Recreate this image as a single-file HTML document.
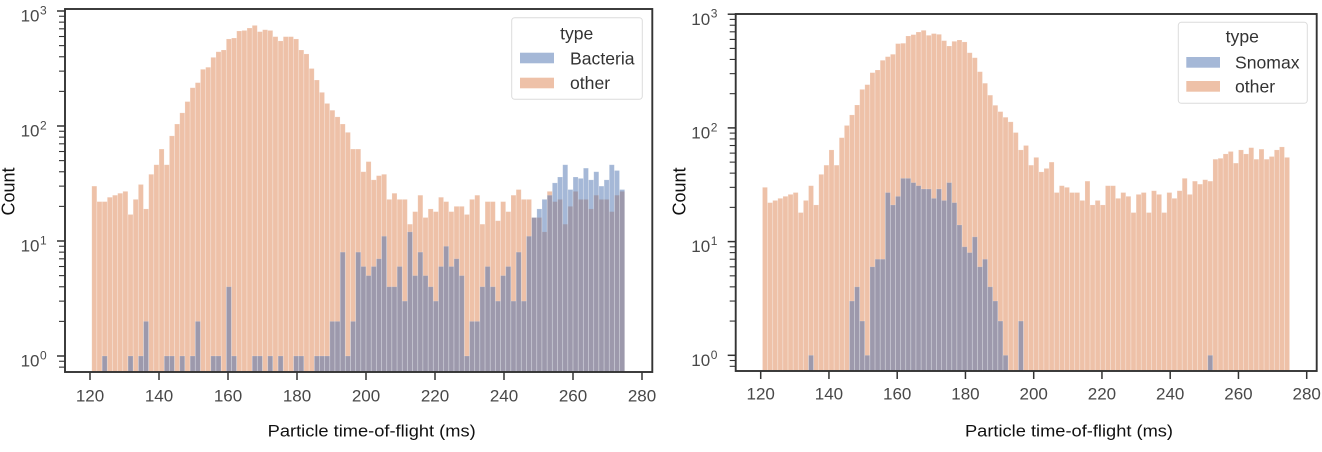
<!DOCTYPE html>
<html lang="en">
<head>
<meta charset="utf-8">
<title>Particle time-of-flight histograms</title>
<style>
html,body{margin:0;padding:0;background:#fff;width:1322px;height:452px;overflow:hidden}
svg{display:block;font-family:"Liberation Sans",sans-serif}
.tick-label{fill:#484848;font-size:17px}
.axis-title{fill:#111;font-size:17px}
.count-title{font-size:18px}
.legend-text{fill:#333;font-size:17.6px}
</style>
</head>
<body>
<svg id="figure" xmlns="http://www.w3.org/2000/svg" width="1322" height="452" viewBox="0 0 1322 452">
  <g id="left-chart"></g>
  <g id="right-chart"></g>

  <g>
    <rect x="511.7" y="17.7" width="130.6" height="81.6" rx="3" fill="#fff" fill-opacity="0.8" stroke="#dcdcdc" stroke-width="1"/>
    <text class="legend-text" x="576.7" y="39.5" text-anchor="middle">type</text>
    <rect x="520" y="52.7" width="34" height="10.6" fill="#4c72b0" fill-opacity="0.5"/>
    <text class="legend-text" x="570" y="64.5">Bacteria</text>
    <rect x="520" y="77.7" width="34" height="10.6" fill="#dd8452" fill-opacity="0.5"/>
    <text class="legend-text" x="570" y="89">other</text>
  </g>

  <g>
    <rect x="1178.3" y="22.3" width="129" height="81" rx="3" fill="#fff" fill-opacity="0.8" stroke="#dcdcdc" stroke-width="1"/>
    <text class="legend-text" x="1242.3" y="42.5" text-anchor="middle">type</text>
    <rect x="1186.3" y="57" width="33.7" height="10.7" fill="#4c72b0" fill-opacity="0.5"/>
    <text class="legend-text" x="1235" y="68.3">Snomax</text>
    <rect x="1186.3" y="81" width="33.7" height="10.7" fill="#dd8452" fill-opacity="0.5"/>
    <text class="legend-text" x="1235" y="92.3">other</text>
  </g>
</svg>

<script>
// Data: histogram counts per bin
const binStart = 120.5;
const binEnd = 275;
const xTickLabels = [120, 140, 160, 180, 200, 220, 240, 260, 280];
const yTickExponents = [0, 1, 2, 3];
const yMinorMultipliers = [2, 3, 4, 5, 6, 7, 8, 9];
const xAxisTitle = "Particle time-of-flight (ms)";
const yAxisTitle = "Count";

const leftOther = [
  30,22,22,24,25,26,27,17,23,31,
  19,38,46,63,46,82,104,130,163,215,
  238,311,324,395,442,458,571,582,670,677,
  711,749,661,687,677,598,549,598,598,571,
  458,423,316,251,196,157,137,120,104,88,
  63,63,40,49,34,37,38,23,26,23,
  23,14,18,25,16,19,18,24,22,18,
  20,20,17,23,25,14,22,22,15,22,
  18,25,28,23,23,16,16,12,27,22,
  23,14,20,27,23,23,19,25,23,23,
  18,25,27
];
const leftBacteria = [
  0,0,1,0,0,0,0,1,0,1,
  2,0,0,0,1,1,0,1,0,1,
  2,0,0,1,1,0,4,1,0,0,
  0,1,1,0,1,0,1,0,0,1,
  1,0,0,1,1,1,2,2,8,1,
  2,8,6,5,6,7,11,4,4,6,
  3,12,5,8,5,4,3,6,9,6,
  7,5,1,2,2,4,6,4,3,5,
  6,3,8,3,11,16,19,23,25,32,
  36,46,28,36,35,43,34,40,30,34,
  46,41,28
];
const rightOther = [
  30,22,23,24,25,26,27,18,23,31,
  21,39,47,64,47,82,105,130,159,218,
  240,306,323,393,423,444,551,555,643,661,
  697,721,652,675,665,585,525,577,593,570,
  458,414,312,247,194,158,139,124,113,91,
  64,70,47,55,41,44,50,27,31,30,
  27,27,23,34,21,23,21,31,31,24,
  27,25,18,26,27,18,28,26,18,27,
  24,28,36,26,34,32,35,34,53,54,
  59,62,49,64,59,67,53,65,53,56,
  64,68,55
];
const rightSnomax = [
  0,0,0,0,0,0,0,0,0,1,
  0,0,0,0,0,0,0,3,4,2,
  1,6,7,7,27,21,25,36,36,33,
  31,29,29,24,29,23,33,22,14,9,
  8,11,6,7,4,3,2,1,0,0,
  2,0,0,0,0,0,0,0,0,0,
  0,0,0,0,0,0,0,0,0,0,
  0,0,0,0,0,0,0,0,0,0,
  0,0,0,0,0,0,0,1,0,0,
  0,0,0,0,0,0,0,0,0,0,
  0,0,0
];

const NS = "http://www.w3.org/2000/svg";
function mk(parent, tag, attrs, text) {
  const el = document.createElementNS(NS, tag);
  for (const k in attrs) el.setAttribute(k, attrs[k]);
  if (text !== undefined) el.textContent = text;
  parent.appendChild(el);
  return el;
}

function drawChart(root, cfg, other, target, targetName) {
  const spine = "#333";
  const xScale = v => cfg.x120 + (v - 120) * cfg.xPerMs;
  const yScale = v => cfg.y1 - Math.log10(v) * cfg.yPerDecade;

  // bars: "other" first, target class on top
  const drawBars = (values, color, name) => {
    const n = values.length;
    const w = (binEnd - binStart) / n;
    values.forEach((v, i) => {
      if (v <= 0) return;
      const x0 = xScale(binStart + i * w);
      const x1 = xScale(binStart + (i + 1) * w);
      const y = yScale(v);
      const bar = mk(root, "rect", {
        x: x0 + 0.1, y: y, width: x1 - x0 - 0.2, height: cfg.bottom - y,
        fill: color, "fill-opacity": 0.5, stroke: "#fff", "stroke-opacity": 0.2, "stroke-width": 0.7
      });
      
      
    });
  };
  drawBars(other, "#dd8452", "bar-other");
  drawBars(target, "#4c72b0", "bar-" + targetName);

  // frame
  const frame = mk(root, "rect", {
    x: cfg.left, y: cfg.top, width: cfg.right - cfg.left, height: cfg.bottom - cfg.top,
    fill: "none", stroke: spine, "stroke-width": 1.9
  });
  
  

  // x ticks
  xTickLabels.forEach(t => {
    const x = xScale(t);
    const tick = mk(root, "line", { x1: x, x2: x, y1: cfg.bottom, y2: cfg.bottom + 8, stroke: spine, "stroke-width": 1.5 });
    
    
    const label = mk(root, "text", { x: x, y: cfg.xLabelY, "text-anchor": "middle", class: "tick-label" }, String(t));
    
    
  });

  // y ticks
  yTickExponents.forEach(e => {
    const y = yScale(Math.pow(10, e));
    const tick = mk(root, "line", { x1: cfg.left - 8, x2: cfg.left, y1: y, y2: y, stroke: spine, "stroke-width": 1.5 });
    
    
    const base = mk(root, "text", { x: cfg.left - 25.5, y: y + 10.6, "text-anchor": "end", class: "tick-label" }, "10");
    
    
    const sup = mk(root, "text", { x: cfg.left - 25, y: y + 3.5, class: "tick-label", style: "font-size:12px" }, String(e));
    
    
  });
  [-1, 0, 1, 2].forEach(e => {
    yMinorMultipliers.forEach(m => {
      const y = yScale(m * Math.pow(10, e));
      if (y > cfg.bottom || y < cfg.top) return;
      const tick = mk(root, "line", { x1: cfg.left - 6, x2: cfg.left, y1: y, y2: y, stroke: spine, "stroke-width": 1.1 });
      
      
    });
  });

  // titles
  const xt = mk(root, "text", { x: cfg.xTitleX, y: 436.7, class: "axis-title", textLength: 208, lengthAdjust: "spacingAndGlyphs" }, xAxisTitle);
  
  
  const yt = mk(root, "text", { x: 0, y: 0, class: "axis-title count-title", "text-anchor": "middle", transform: "translate(" + cfg.yTitleX + ",191.5) rotate(-90)" }, yAxisTitle);
  
  
}

drawChart(document.getElementById("left-chart"), {
  left: 65, right: 652.3, top: 9, bottom: 372,
  x120: 90, xPerMs: 3.45,
  y1: 356, yPerDecade: 115,
  xLabelY: 401.5, xTitleX: 267.7, yTitleX: 14.3
}, leftOther, leftBacteria, "bacteria");

drawChart(document.getElementById("right-chart"), {
  left: 735.7, right: 1316.7, top: 14, bottom: 371,
  x120: 760.7, xPerMs: 3.4125,
  y1: 355.3, yPerDecade: 113.7,
  xLabelY: 399.5, xTitleX: 965, yTitleX: 685.7
}, rightOther, rightSnomax, "snomax");
</script>
</body>
</html>
